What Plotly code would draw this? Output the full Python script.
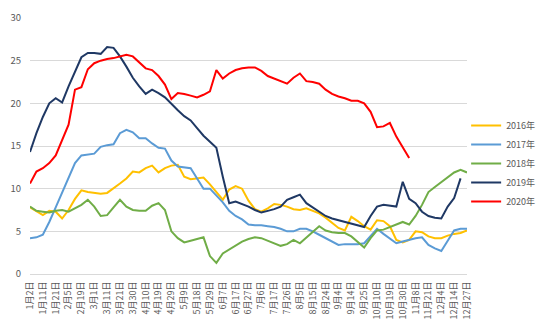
import plotly.graph_objects as go

# Category tick labels (every other sample date is labelled)
tick_labels = [
    "1月2日", "1月11日", "1月21日", "2月5日", "2月19日",
    "3月1日", "3月11日", "3月21日", "3月30日",
    "4月10日", "4月19日", "4月29日",
    "5月9日", "5月18日", "5月29日",
    "6月7日", "6月17日", "6月27日",
    "7月6日", "7月17日", "7月26日",
    "8月5日", "8月15日", "8月24日",
    "9月4日", "9月14日", "9月25日",
    "10月10日", "10月19日", "10月30日",
    "11月8日", "11月21日",
    "12月4日", "12月14日", "12月27日",
]

y2016 = [7.8, 7.3, 6.9, 7.4, 7.3, 6.5, 7.5, 8.8, 9.8, 9.6, 9.5, 9.4, 9.5, 10.0, 10.6, 11.2,
         12.0, 11.9, 12.4, 12.7, 11.9, 12.4, 12.7, 12.8, 11.4, 11.1, 11.2, 11.3, 10.5, 9.6,
         8.7, 9.9, 10.3, 10.0, 8.6, 7.6, 7.3, 7.7, 8.2, 8.1, 7.9, 7.6, 7.5, 7.7, 7.4, 7.1,
         6.6, 6.0, 5.4, 5.1, 6.7, 6.2, 5.6, 5.2, 6.3, 6.2, 5.6, 4.0, 3.7, 4.0, 5.0, 4.9,
         4.4, 4.2, 4.2, 4.5, 4.7, 4.8, 5.1]

y2017 = [4.2, 4.3, 4.6, 6.1, 7.8, 9.5, 11.4, 13.0, 13.9, 14.0, 14.1, 14.9, 15.1, 15.2, 16.5,
         16.9, 16.6, 15.9, 15.9, 15.3, 14.8, 14.7, 13.3, 12.6, 12.5, 12.4, 11.2, 10.0, 10.0,
         9.2, 8.4, 7.4, 6.8, 6.4, 5.8, 5.7, 5.7, 5.6, 5.5, 5.3, 5.0, 5.0, 5.3, 5.3, 5.0, 4.6,
         4.2, 3.8, 3.4, 3.5, 3.5, 3.5, 3.6, 4.4, 5.3, 4.7, 4.1, 3.6, 3.8, 4.0, 4.2, 4.3, 3.4,
         3.0, 2.7, 3.9, 5.1, 5.3, 5.3]

y2018 = [7.9, 7.4, 7.3, 7.2, 7.4, 7.5, 7.3, 7.7, 8.1, 8.7, 7.9, 6.8, 6.9, 7.8, 8.7, 7.9,
         7.5, 7.4, 7.4, 8.0, 8.3, 7.5, 5.0, 4.2, 3.7, 3.9, 4.1, 4.3, 2.1, 1.3, 2.4, 2.9, 3.4,
         3.8, 4.1, 4.3, 4.2, 3.9, 3.6, 3.3, 3.5, 4.0, 3.6, 4.3, 4.9, 5.6, 5.1, 4.9, 4.8, 4.8,
         4.4, 3.8, 3.1, 4.2, 5.1, 5.2, 5.5, 5.8, 6.1, 5.8, 6.8, 8.1, 9.6, 10.2, 10.8, 11.3,
         11.9, 12.2, 11.9]

y2019 = [14.3, 16.5, 18.4, 20.0, 20.6, 20.1, 22.0, 23.8, 25.4, 25.9, 25.9, 25.8, 26.6, 26.5,
         25.5, 24.3, 23.0, 22.0, 21.1, 21.6, 21.2, 20.7, 19.9, 19.2, 18.5, 18.0, 17.1, 16.2,
         15.5, 14.8, 11.4, 8.3, 8.5, 8.2, 7.9, 7.5, 7.2, 7.4, 7.6, 7.9, 8.7, 9.0, 9.3, 8.3,
         7.8, 7.4, 6.8, 6.5, 6.3, 6.1, 5.9, 5.7, 5.5, 6.8, 7.9, 8.1, 8.0, 7.9, 10.8, 8.8, 8.3,
         7.3, 6.8, 6.6, 6.5, 7.9, 8.9, 11.2]

y2020 = [10.6, 12.0, 12.4, 13.0, 13.9, 15.7, 17.5, 21.6, 21.9, 24.0, 24.7, 25.0, 25.2, 25.3,
         25.5, 25.7, 25.5, 24.8, 24.1, 23.9, 23.2, 22.2, 20.5, 21.2, 21.1, 20.9, 20.7, 21.0,
         21.4, 23.9, 22.9, 23.5, 23.9, 24.1, 24.2, 24.2, 23.8, 23.2, 22.9, 22.6, 22.3, 23.0,
         23.5, 22.6, 22.5, 22.3, 21.6, 21.1, 20.8, 20.6, 20.3, 20.3, 20.0, 19.0, 17.2, 17.3,
         17.7, 16.1, 14.8, 13.6]

series_names = ["2016年", "2017年", "2018年", "2019年", "2020年"]
series_colors = ["#FFC000", "#5B9BD5", "#70AD47", "#1F3864", "#FF0000"]
series_values = [y2016, y2017, y2018, y2019, y2020]

n_points = len(y2016)
x_index = list(range(n_points))

fig = go.Figure()
for name, color, vals in zip(series_names, series_colors, series_values):
    fig.add_trace(go.Scatter(
        x=x_index[:len(vals)],
        y=vals,
        mode="lines",
        name=name,
        line=dict(color=color, width=2),
    ))

grey = "#595959"
fig.update_layout(
    width=550,
    height=330,
    margin=dict(l=27, r=71, t=10, b=53),
    paper_bgcolor="white",
    plot_bgcolor="white",
    font=dict(family="Noto Sans CJK SC, Noto Sans, sans-serif", color=grey, size=9),
    showlegend=True,
    legend=dict(
        x=0.998, xanchor="left",
        y=0.637, yanchor="top",
        font=dict(size=9, color=grey),
        itemwidth=30,
        tracegroupgap=0,
        bgcolor="rgba(0,0,0,0)",
    ),
    xaxis=dict(
        range=[0, n_points - 1],
        tickmode="array",
        tickvals=x_index[::2],
        ticktext=tick_labels,
        tickangle=-90,
        showgrid=False,
        zeroline=False,
        showline=True,
        linecolor="#D9D9D9",
        linewidth=1,
        ticks="",
        tickfont=dict(size=9, color=grey),
        ticklabelstandoff=3,
    ),
    yaxis=dict(
        range=[0, 30],
        tickvals=[0, 5, 10, 15, 20, 25, 30],
        showgrid=True,
        gridcolor="#D9D9D9",
        gridwidth=1,
        zeroline=False,
        showline=False,
        ticks="",
        tickfont=dict(size=9.5, color=grey),
        ticklabelstandoff=8,
    ),
)

fig.write_html("out.html")
